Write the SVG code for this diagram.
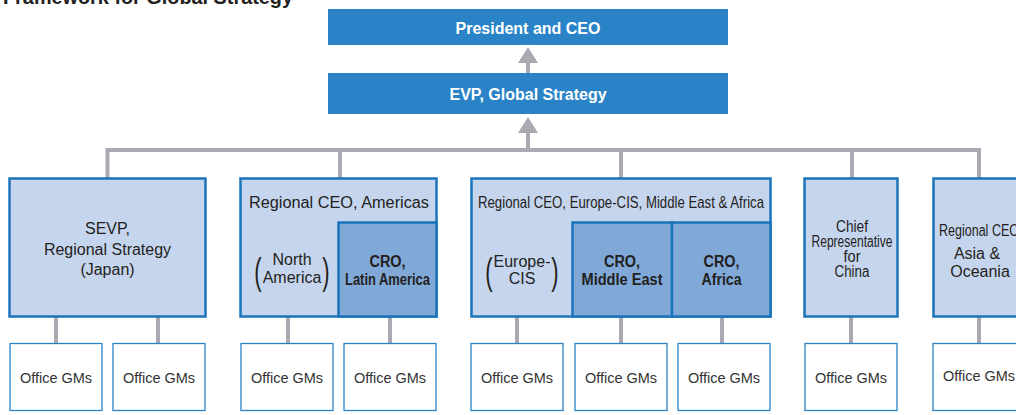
<svg xmlns="http://www.w3.org/2000/svg" width="1016" height="415" viewBox="0 0 1016 415">
<style>
.top{fill:#2a83c7}
.topt{font-family:"Liberation Sans",Arial,sans-serif;font-weight:bold;font-size:16px;fill:#fff;text-anchor:middle}
.reg{fill:#c6d5ee;stroke:#1b74bb;stroke-width:2.5}
.cro{fill:#80a9d8;stroke:#1b74bb;stroke-width:2.5}
.gm{fill:#fff;stroke:#2a85c8;stroke-width:1.3}
.t{font-family:"Liberation Sans",Arial,sans-serif;font-size:16px;fill:#231f20;text-anchor:middle}
.tb{font-family:"Liberation Sans",Arial,sans-serif;font-size:16px;font-weight:bold;fill:#231f20;text-anchor:middle}
.gmt{font-family:"Liberation Sans",Arial,sans-serif;font-size:14.5px;fill:#333;text-anchor:middle}
.par{font-family:"Liberation Sans",Arial,sans-serif;font-size:22px;fill:#231f20;text-anchor:middle}
.ln{fill:none;stroke:#a9aab2;stroke-width:4}
.ah{fill:#a9aab2}
</style>
<text x="3" y="4" font-family="Liberation Sans,Arial,sans-serif" font-weight="bold" font-size="21" fill="#231f20" textLength="290" lengthAdjust="spacingAndGlyphs">Framework for Global Strategy</text>
<g id="connectors">
<path class="ln" d="M528,73 V61"/>
<polygon class="ah" points="518,63 528,47 538,63"/>
<path class="ln" d="M528,150 V131"/>
<polygon class="ah" points="518,133 528,117 538,133"/>
<path class="ln" d="M107.5,178 V150 H979 V178"/>
<path class="ln" d="M340,150 V178 M621,150 V178 M852,150 V178"/>
<path class="ln" d="M56,317 V343 M158,317 V343 M288,317 V343 M390,317 V343 M517,317 V343 M621,317 V343 M722,317 V343 M851,317 V343 M979,317 V343"/>
</g>
<g id="president">
<rect class="top" x="328" y="9" width="400" height="36"/>
<text class="topt" x="528" y="34">President and CEO</text>
</g>
<g id="evp">
<rect class="top" x="328" y="73" width="400" height="41"/>
<text class="topt" x="528" y="100">EVP, Global Strategy</text>
</g>
<g id="sevp">
<rect class="reg" x="9.5" y="178.5" width="196" height="138"/>
<text class="t" x="107.5" y="234">SEVP,</text>
<text class="t" x="107.5" y="255">Regional Strategy</text>
<text class="t" x="107.5" y="275">(Japan)</text>
</g>
<g id="americas">
<rect class="reg" x="240.5" y="178.5" width="196" height="138"/>
<text class="t" x="339" y="208" textLength="180" lengthAdjust="spacingAndGlyphs">Regional CEO, Americas</text>
<text class="t" x="292" y="265" font-size="15">North</text>
<text class="t" x="292" y="283" font-size="15">America</text>
<text class="par" transform="translate(258,284) scale(1,1.65)">(</text>
<text class="par" transform="translate(326,284) scale(1,1.65)">)</text>
</g>
<g id="cro-latam">
<rect class="cro" x="338.5" y="222.5" width="98" height="94"/>
<text class="tb" x="387.5" y="267" textLength="36" lengthAdjust="spacingAndGlyphs">CRO,</text>
<text class="tb" x="387.5" y="285" textLength="85" lengthAdjust="spacingAndGlyphs">Latin America</text>
</g>
<g id="emea">
<rect class="reg" x="471.5" y="178.5" width="299" height="138"/>
<text class="t" x="621" y="208" textLength="286" lengthAdjust="spacingAndGlyphs">Regional CEO, Europe-CIS, Middle East &amp; Africa</text>
<text class="t" x="522" y="267" font-size="15">Europe-</text>
<text class="t" x="522" y="284" font-size="15">CIS</text>
<text class="par" transform="translate(489,284) scale(1,1.65)">(</text>
<text class="par" transform="translate(555,284) scale(1,1.65)">)</text>
</g>
<g id="cro-me">
<rect class="cro" x="572.5" y="222.5" width="99.5" height="94"/>
<text class="tb" x="622" y="267" textLength="36" lengthAdjust="spacingAndGlyphs">CRO,</text>
<text class="tb" x="622" y="285" textLength="81" lengthAdjust="spacingAndGlyphs">Middle East</text>
</g>
<g id="cro-africa">
<rect class="cro" x="672" y="222.5" width="98.5" height="94"/>
<text class="tb" x="721.5" y="267" textLength="36" lengthAdjust="spacingAndGlyphs">CRO,</text>
<text class="tb" x="721.5" y="285" textLength="40" lengthAdjust="spacingAndGlyphs">Africa</text>
</g>
<g id="china">
<rect class="reg" x="804.5" y="178.5" width="93" height="138"/>
<text class="t" x="852" y="232" font-size="12.5" textLength="32" lengthAdjust="spacingAndGlyphs">Chief</text>
<text class="t" x="852" y="247" font-size="12.5" textLength="81" lengthAdjust="spacingAndGlyphs">Representative</text>
<text class="t" x="852" y="262" font-size="12.5" textLength="17" lengthAdjust="spacingAndGlyphs">for</text>
<text class="t" x="852" y="277" font-size="12.5" textLength="35" lengthAdjust="spacingAndGlyphs">China</text>
</g>
<g id="asia">
<rect class="reg" x="933.5" y="178.5" width="94" height="138"/>
<text class="t" x="979" y="236" font-size="15" textLength="80" lengthAdjust="spacingAndGlyphs">Regional CEO</text>
<text class="t" x="977" y="259" font-size="16.5">Asia &amp;</text>
<text class="t" x="980" y="277" font-size="16.5">Oceania</text>
</g>
<g id="gm1"><rect class="gm" x="10" y="343.5" width="92" height="67"/><text class="gmt" x="56" y="383">Office GMs</text></g>
<g id="gm2"><rect class="gm" x="113" y="343.5" width="92" height="67"/><text class="gmt" x="159" y="383">Office GMs</text></g>
<g id="gm3"><rect class="gm" x="241" y="343.5" width="92" height="67"/><text class="gmt" x="287" y="383">Office GMs</text></g>
<g id="gm4"><rect class="gm" x="344" y="343.5" width="92" height="67"/><text class="gmt" x="390" y="383">Office GMs</text></g>
<g id="gm5"><rect class="gm" x="471" y="343.5" width="92" height="67"/><text class="gmt" x="517" y="383">Office GMs</text></g>
<g id="gm6"><rect class="gm" x="575" y="343.5" width="92" height="67"/><text class="gmt" x="621" y="383">Office GMs</text></g>
<g id="gm7"><rect class="gm" x="678" y="343.5" width="92" height="67"/><text class="gmt" x="724" y="383">Office GMs</text></g>
<g id="gm8"><rect class="gm" x="805" y="343.5" width="92" height="67"/><text class="gmt" x="851" y="383">Office GMs</text></g>
<g id="gm9"><rect class="gm" x="933" y="343.5" width="92" height="67"/><text class="gmt" x="979" y="381">Office GMs</text></g>
</svg>
